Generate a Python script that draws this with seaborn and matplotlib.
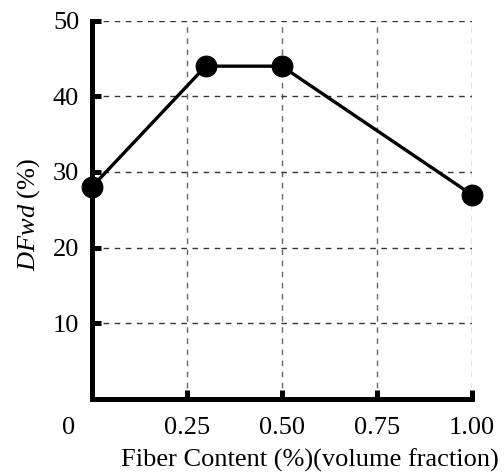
import matplotlib
matplotlib.use("Agg")
import matplotlib.pyplot as plt
import matplotlib.transforms as mtransforms
import seaborn as sns
import pandas as pd

fiber = [0.0, 0.3, 0.5, 1.0]
dfwd = [28, 44, 44, 27]
xticks = [0, 0.25, 0.5, 0.75, 1.0]
xticklabels = ["0", "0.25", "0.50", "0.75", "1.00"]
yticks = [10, 20, 30, 40, 50]
yticklabels = ["10", "20", "30", "40", "50"]

sns.set_theme(style="white")
plt.rcParams['font.family'] = ['Liberation Serif', 'DejaVu Serif']
plt.rcParams['mathtext.fontset'] = 'custom'
plt.rcParams['mathtext.rm'] = 'Liberation Serif'
plt.rcParams['mathtext.it'] = 'Liberation Serif:italic'

df = pd.DataFrame({"fiber": fiber, "dfwd": dfwd})

fig = plt.figure(figsize=(5.04, 4.73), dpi=100)
ax = fig.add_axes([0.182, 0.157, 0.754, 0.799])

sns.lineplot(data=df, x="fiber", y="dfwd", ax=ax, color="black", linewidth=2.4,
             marker="o", markersize=15, markeredgecolor="black",
             markerfacecolor="black", clip_on=False, zorder=5)

ax.set_xlim(0, 1.0)
ax.set_ylim(0, 50)
ax.set_xticks(xticks)
ax.set_xticklabels(xticklabels)
ax.set_yticks(yticks)
ax.set_yticklabels(yticklabels)

for s in ["top", "right"]:
    ax.spines[s].set_visible(False)
for s in ["left", "bottom"]:
    ax.spines[s].set_linewidth(3.6)
    ax.spines[s].set_color("black")
    ax.spines[s].set_capstyle("projecting")

ax.tick_params(axis="both", which="major", bottom=True, left=True,
               direction="in", length=6.5, width=3.6, colors="black",
               labelsize=19, labelcolor="black")
ax.tick_params(axis="y", pad=9)
ax.tick_params(axis="x", pad=13)

ax.yaxis.grid(True, linestyle=(0, (4, 4)), color="#333333", linewidth=1.0)
ax.xaxis.grid(True, linestyle=(0, (4, 4)), color="#666666", linewidth=1.0)
ax.set_axisbelow(True)

# shift the "0" origin label left
lbl0 = ax.get_xticklabels()[0]
lbl0.set_transform(lbl0.get_transform() + mtransforms.ScaledTranslation(-23 / 100, 0, fig.dpi_scale_trans))

ax.set_xlabel("Fiber Content (%)(volume fraction)", fontsize=19, color="black", x=0.575, labelpad=7)
ax.set_ylabel(r"$\mathit{DFwd}$ (%)", fontsize=19, color="black", labelpad=8, y=0.487)

fig.savefig("out.png", dpi=100)
